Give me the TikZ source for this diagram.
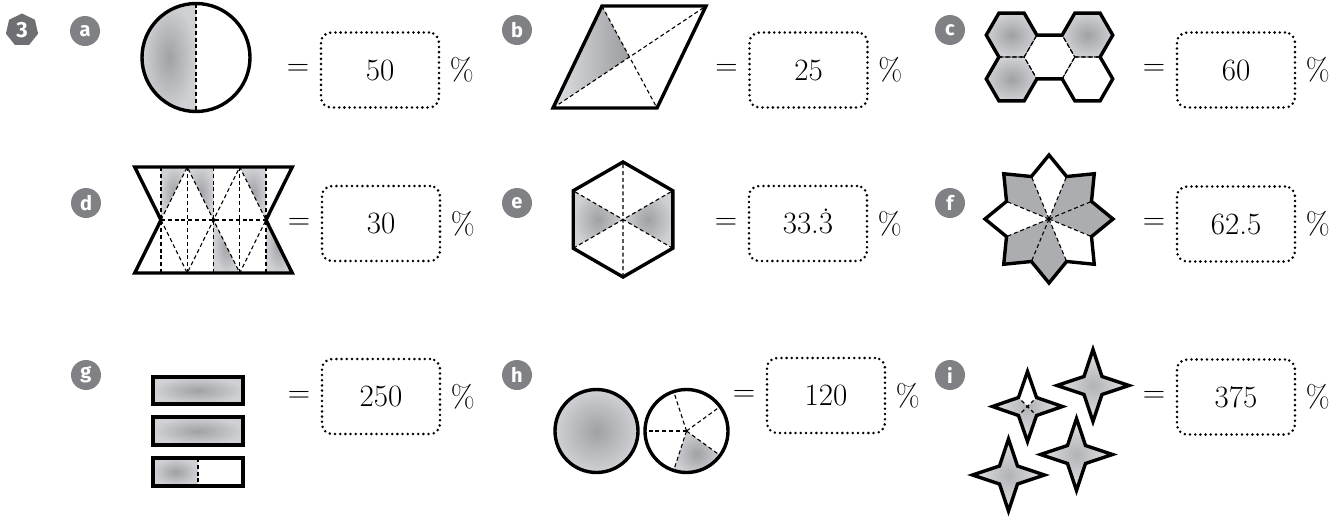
\documentclass[tikz,border=0pt]{standalone}
\usepackage{fontspec}
\newfontfamily\badgefont{Fira Sans}
\usepackage{tikz}
\usetikzlibrary{positioning,shapes.geometric}
\definecolor{badgegrey}{RGB}{128,129,133}
\definecolor{numbergrey}{RGB}{110,111,114}
\definecolor{shadein}{RGB}{160,161,165}
\definecolor{shadeout}{RGB}{208,209,212}
\definecolor{shadelight}{RGB}{224,225,227}
\definecolor{shadedark}{RGB}{155,156,160}
\definecolor{shadeflat}{RGB}{172,173,177}
\definecolor{starin}{RGB}{178,179,183}
\definecolor{starout}{RGB}{226,227,229}
\newcommand{\recurthree}{\ooalign{3\cr\hidewidth\raisebox{0.72em}{.}\hidewidth\cr}}
\tikzset{
  outline/.style={line width=1.7pt,line join=miter},
  cutline/.style={line width=0.55pt,dash pattern=on 2pt off 1.4pt},
  shaded/.style={inner color=shadein,outer color=shadeout},
  starshade/.style={inner color=starin,outer color=starout},
  answerbox/.style={draw,line width=1.4pt,line cap=round,dash pattern=on 0pt off 2.6pt,
    rounded corners=5pt,minimum width=59pt,minimum height=37.5pt,inner sep=0pt,
    font=\rmfamily\fontsize{15.5}{18}\selectfont},
  eqsign/.style={inner sep=0pt,font=\rmfamily\fontsize{15.5}{18}\selectfont},
  pctsign/.style={inner sep=0pt,font=\rmfamily\fontsize{15.5}{18}\selectfont},
  badge/.style={circle,fill=badgegrey,text=white,minimum size=15pt,inner sep=0pt,
    font=\badgefont\bfseries\fontsize{10}{10}\selectfont},
  qnum/.style={regular polygon,regular polygon sides=7,fill=numbergrey,text=white,
    minimum size=16.5pt,inner sep=0pt,font=\badgefont\bfseries\fontsize{11}{11}\selectfont}
}

\begin{document}
\begin{tikzpicture}[x=0.5pt,y=-0.5pt]
  \useasboundingbox[fill=white] (0,0) rectangle (1339,520);

  % question and part labels
  \node[qnum] (q3) at (22,30) {3};
  \node[badge] (laba) at (85,31) {a};
  \node[badge] (labb) at (517,30) {b};
  \node[badge] (labc) at (950,30) {c};
  \node[badge] (labd) at (86,203) {d};
  \node[badge] (labe) at (517,203) {e};
  \node[badge] (labf) at (950,203) {f};
  \node[badge] (labg) at (86,375) {g};
  \node[badge] (labh) at (517,375) {h};
  \node[badge] (labi) at (950,375) {i};

  % answers
  \node[answerbox] (boxa) at (380,70) {50};
  \node[answerbox] (boxb) at (808.5,70) {25};
  \node[answerbox] (boxc) at (1236,70) {60};
  \node[answerbox] (boxd) at (381,223.5) {30};
  \node[answerbox] (boxe) at (808,223.5) {33.\recurthree};
  \node[answerbox] (boxf) at (1236,224) {62.5};
  \node[answerbox] (boxg) at (381,396.5) {250};
  \node[answerbox] (boxh) at (826,395.5) {120};
  \node[answerbox] (boxi) at (1236,397) {375};
  \foreach \q in {a,b,c,d,e,f,g,h,i} {
    \node[eqsign,left=5pt of box\q] (eq\q) {=};
    \node[pctsign,right=4.5pt of box\q] (pct\q) {\%};
  }

  % a: half circle
  \shade[shaded] (196,111.5) arc[start angle=90,end angle=270,radius=54] -- cycle;
  \draw[cutline] (196,3.5) -- (196,111.5);
  \draw[outline] (196,57.5) circle[radius=54];

  % b: parallelogram
  \coordinate (bbl) at (553,108);
  \coordinate (bbr) at (657,108);
  \coordinate (btr) at (706,6);
  \coordinate (btl) at (602,6);
  \coordinate (bmid) at (629.5,57);
  \shade[left color=shadelight,right color=shadedark] (bbl) -- (btl) -- (bmid) -- cycle;
  \draw[cutline] (btl) -- (bbr) (bbl) -- (btr);
  \draw[outline] (bbl) -- (bbr) -- (btr) -- (btl) -- cycle;

  % c: five hexagons
  \begin{scope}[shift={(1049.5,57)},scale=25.3]
    \foreach \cx/\cy in {-1.5/-0.866,-1.5/0.866,1.5/-0.866}
      \shade[shaded] (\cx,\cy) ++(1,0) -- ++(120:1) -- ++(180:1) -- ++(240:1)
        -- ++(300:1) -- ++(0:1) -- cycle;
    \foreach \cx/\cy in {-1.5/-0.866,-1.5/0.866,0/0,1.5/-0.866,1.5/0.866}
      \draw[cutline] (\cx,\cy) ++(1,0) -- ++(120:1) -- ++(180:1) -- ++(240:1)
        -- ++(300:1) -- ++(0:1) -- cycle;
    \draw[outline] (-1,1.732) -- (-2,1.732) -- (-2.5,0.866) -- (-2,0) -- (-2.5,-0.866)
      -- (-2,-1.732) -- (-1,-1.732) -- (-0.5,-0.866) -- (0.5,-0.866) -- (1,-1.732)
      -- (2,-1.732) -- (2.5,-0.866) -- (2,0) -- (2.5,0.866) -- (2,1.732) -- (1,1.732)
      -- (0.5,0.866) -- (-0.5,0.866) -- cycle;
  \end{scope}

  % d: bow tie of triangles
  \begin{scope}[shift={(213.5,220)},x=13.125pt,y=-26.5pt]
    \shade[shaded] (-2,-1) -- (-1,-1) -- (-2,0) -- cycle;
    \shade[shaded] (-1,-1) -- (0,-1) -- (0,0) -- cycle;
    \shade[shaded] (1,-1) -- (2,-1) -- (2,0) -- cycle;
    \shade[shaded] (0,0) -- (0,1) -- (1,1) -- cycle;
    \shade[shaded] (2,0) -- (2,1) -- (3,1) -- cycle;
    \foreach \vx in {-2,...,2}
      \draw[cutline] (\vx,-1) -- (\vx,1);
    \draw[cutline] (-2,0) -- (2,0);
    \draw[cutline] (-2,0) -- (-1,-1) -- (0,0) -- (1,-1) -- (2,0);
    \draw[cutline] (-2,0) -- (-1,1) -- (0,0) -- (1,1) -- (2,0);
    \fill (0,0) circle[radius=1pt];
    \draw[outline] (-3,-1) -- (3,-1) -- (2,0) -- (3,1) -- (-3,1) -- (-2,0) -- cycle;
  \end{scope}

  % e: hexagon
  \begin{scope}[shift={(623,219.5)}]
    \shade[shaded] (0,0) -- (150:57.5) -- (210:57.5) -- cycle;
    \shade[shaded] (0,0) -- (30:57.5) -- (-30:57.5) -- cycle;
    \draw[cutline] (90:57.5) -- (270:57.5) (30:57.5) -- (210:57.5) (150:57.5) -- (330:57.5);
    \draw[outline] (90:57.5) -- (30:57.5) -- (-30:57.5) -- (-90:57.5) -- (-150:57.5)
      -- (150:57.5) -- cycle;
  \end{scope}

  % f: eight-point star
  \begin{scope}[shift={(1049,219)}]
    \foreach \a in {0,90,135,225,315}
      \fill[shadeflat] (0,0) -- (\a-22.5:46) -- (\a:64) -- (\a+22.5:46) -- cycle;
    \foreach \a in {22.5,67.5,...,337.5}
      \draw[cutline] (0,0) -- (\a:46);
    \draw[outline] (0:64) \foreach \a in {45,90,...,315} { -- (\a-22.5:46) -- (\a:64) }
      -- (337.5:46) -- cycle;
  \end{scope}

  % g: strips
  \shade[shaded] (153,377) rectangle (243,404);
  \shade[shaded] (153,417) rectangle (243,445);
  \shade[shaded] (153,458) rectangle (198,486);
  \draw[cutline] (198,458) -- (198,486);
  \draw[outline] (153,377) rectangle (243,404) (153,417) rectangle (243,445)
    (153,458) rectangle (243,486);

  % h: whole circle and a fifth
  \shade[shaded] (596.5,431) circle[radius=41.5];
  \draw[outline] (596.5,431) circle[radius=41.5];
  \begin{scope}[shift={(686.5,431)}]
    \shade[shaded] (0,0) -- (36:41.5) arc[start angle=36,end angle=108,radius=41.5] -- cycle;
    \foreach \a in {36,108,180,252,324}
      \draw[cutline] (0,0) -- (\a:41.5);
    \draw[outline] (0,0) circle[radius=41.5];
  \end{scope}

  % i: four-point stars
  \foreach \sx/\sy in {1093/385.5,1008.5/475,1076.5/454.5}
    \shade[starshade,draw,outline,shift={(\sx,\sy)}] (0,-36) -- (9,-9) -- (36,0) -- (9,9)
      -- (0,36) -- (-9,9) -- (-36,0) -- (-9,-9) -- cycle;
  \begin{scope}[shift={(1027.5,406.5)}]
    \shade[starshade] (0,-35) -- (9,-9) -- (35,0) -- (9,9) -- (0,35) -- (-9,9)
      -- (-35,0) -- (-9,-9) -- cycle;
    \fill[white] (0,0) -- (-9,-9) -- (0,-35) -- (9,-9) -- cycle;
    \draw[cutline] (-6,-6) -- (6,6) (-6,6) -- (6,-6);
    \draw[outline] (0,-35) -- (9,-9) -- (35,0) -- (9,9) -- (0,35) -- (-9,9)
      -- (-35,0) -- (-9,-9) -- cycle;
  \end{scope}
\end{tikzpicture}
\end{document}
